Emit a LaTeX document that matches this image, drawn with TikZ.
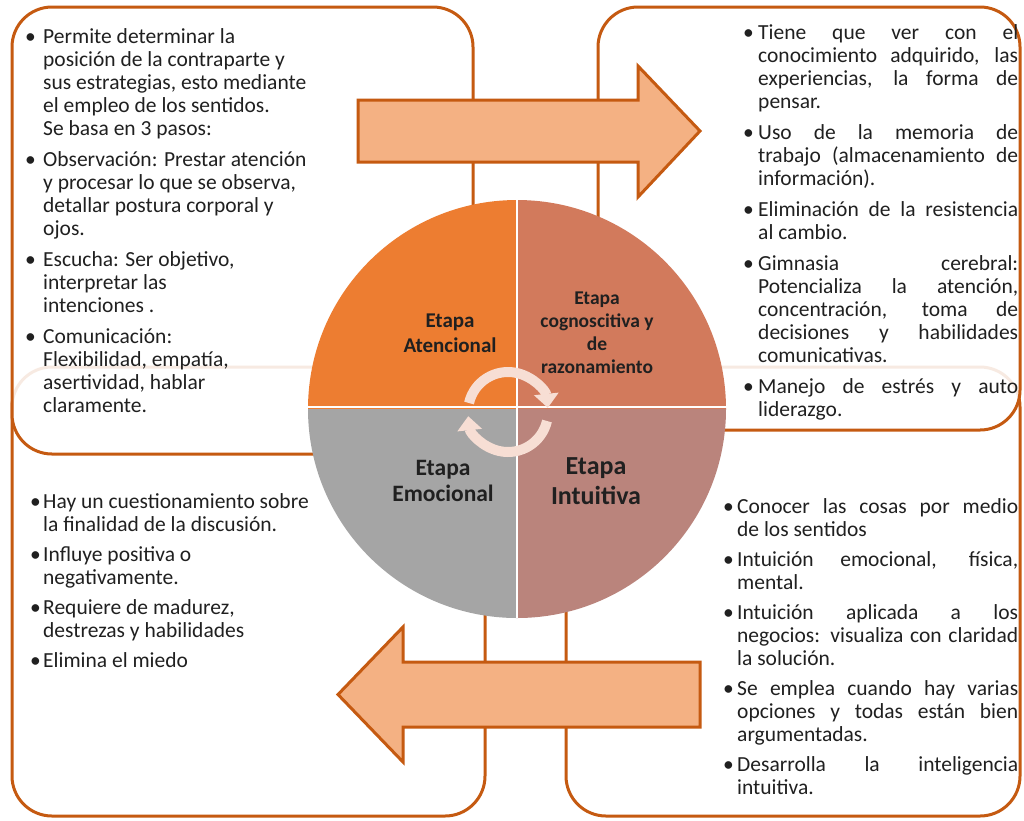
\documentclass[tikz,border=0pt]{standalone}
\usepackage{fontspec}
\setmainfont{Carlito}
\usetikzlibrary{arrows.meta}

\definecolor{marco}{HTML}{C55A11}
\definecolor{flecha}{HTML}{F4B183}
\definecolor{naranja}{HTML}{ED7D31}
\definecolor{terracota}{HTML}{D27A5C}
\definecolor{rosado}{HTML}{BA847C}
\definecolor{gris}{HTML}{A5A5A5}
\definecolor{ciclo}{HTML}{F7DED4}
\definecolor{texto}{HTML}{202020}

\newcommand{\vineta}[1]{\par\noindent\hangindent=#1\hangafter=1\makebox[#1][l]{\textbullet}}

\tikzset{
    marcobox/.style={draw=marco, line width=3pt, rounded corners=40pt},
    flechabox/.style={fill=flecha, draw=marco, line width=3pt},
    ciclobox/.style={draw=ciclo, line width=10pt, -{Triangle[width=24pt,length=14pt]}},
    lista/.style={anchor=base west, inner sep=0pt, text=texto, font=\fontsize{21.5}{23}\selectfont},
    etapa/.style={align=center, inner sep=0pt, text=texto},
}

\begin{document}
\begin{tikzpicture}[x=1pt, y=-1pt]
    \useasboundingbox (0,0) rectangle (1024,820);
    \fill[white] (0,0) rectangle (1024,820);

    \draw[marcobox, fill=white] (12,367) rectangle (485,816);
    \draw[marcobox, fill=white] (566,367) rectangle (1020,816);
    \draw[marcobox, fill=white, fill opacity=0.88] (12,7) rectangle (473,454);
    \draw[marcobox, fill=white, fill opacity=0.88] (598,7) rectangle (1020,430);

    \fill[naranja] (517,409) -- ++(180:209) arc[start angle=180, end angle=270, radius=209] -- cycle;
    \fill[terracota] (517,409) -- ++(270:209) arc[start angle=270, end angle=360, radius=209] -- cycle;
    \fill[rosado] (517,409) -- ++(0:209) arc[start angle=0, end angle=90, radius=209] -- cycle;
    \fill[gris] (517,409) -- ++(90:209) arc[start angle=90, end angle=180, radius=209] -- cycle;
    \draw[white, line width=2pt] (517,200) -- (517,618);
    \draw[white, line width=2pt] (308,407) -- (726,407);

    \draw[ciclobox] (508,412) ++(193:40) arc[start angle=193, end angle=354, radius=40];
    \draw[ciclobox] (508,412) ++(13:40) arc[start angle=13, end angle=174, radius=40];

    \draw[flechabox] (358,100) -- (638,100) -- (638,66) -- (700,131) -- (638,197) -- (638,162) -- (358,162) -- cycle;
    \draw[flechabox] (700,662) -- (403,662) -- (403,627) -- (338,694.5) -- (403,762) -- (403,727) -- (700,727) -- cycle;

    \node[etapa, font=\bfseries\fontsize{21}{25}\selectfont] (atencional) at (450,333) {Etapa\\Atencional};
    \node[etapa, font=\bfseries\fontsize{19.5}{23}\selectfont] (cognoscitiva) at (597,333) {Etapa\\cognoscitiva y\\de\\razonamiento};
    \node[etapa, font=\bfseries\fontsize{23.5}{26}\selectfont] (emocional) at (443,481) {Etapa\\Emocional};
    \node[etapa, font=\bfseries\fontsize{26}{30}\selectfont] (intuitiva) at (596,481) {Etapa\\Intuitiva};

    \node[lista] (txtatencional) at (25,43) {\begin{minipage}[t]{300pt}\raggedright\parskip=8pt
        \vineta{18pt}Permite determinar la \linebreak posición de la contraparte y \linebreak sus estrategias, esto mediante \linebreak el empleo de los sentidos. \linebreak Se basa en 3 pasos:
        \vineta{18pt}Observación: Prestar atención \linebreak y procesar lo que se observa, \linebreak detallar postura corporal y \linebreak ojos.
        \vineta{18pt}Escucha: Ser objetivo, \linebreak interpretar las \linebreak intenciones .
        \vineta{18pt}Comunicación: \linebreak Flexibilidad, empatía, \linebreak asertividad, hablar \linebreak claramente.
    \end{minipage}};

    \node[lista] (txtcognoscitiva) at (743,39) {\begin{minipage}[t]{275pt}\parskip=8pt
        \vineta{15pt}Tiene que ver con el \linebreak conocimiento adquirido, las \linebreak experiencias, la forma de \linebreak pensar.
        \vineta{15pt}Uso de la memoria de \linebreak trabajo (almacenamiento de \linebreak información).
        \vineta{15pt}Eliminación de la resistencia \linebreak al cambio.
        \vineta{15pt}Gimnasia cerebral: \linebreak Potencializa la atención, \linebreak concentración, toma de \linebreak decisiones y habilidades \linebreak comunicativas.
        \vineta{15pt}Manejo de estrés y auto \linebreak liderazgo.
    \end{minipage}};

    \node[lista] (txtemocional) at (30,508) {\begin{minipage}[t]{300pt}\raggedright\parskip=7pt
        \vineta{13pt}Hay un cuestionamiento sobre \linebreak la finalidad de la discusión.
        \vineta{13pt}Influye positiva o \linebreak negativamente.
        \vineta{13pt}Requiere de madurez, \linebreak destrezas y habilidades
        \vineta{13pt}Elimina el miedo
    \end{minipage}};

    \node[lista] (txtintuitiva) at (723,513) {\begin{minipage}[t]{295pt}\parskip=7pt
        \vineta{14pt}Conocer las cosas por medio \linebreak de los sentidos
        \vineta{14pt}Intuición emocional, física, \linebreak mental.
        \vineta{14pt}Intuición aplicada a los \linebreak negocios: visualiza con claridad \linebreak la solución.
        \vineta{14pt}Se emplea cuando hay varias \linebreak opciones y todas están bien \linebreak argumentadas.
        \vineta{14pt}Desarrolla la inteligencia \linebreak intuitiva.
    \end{minipage}};
\end{tikzpicture}
\end{document}
